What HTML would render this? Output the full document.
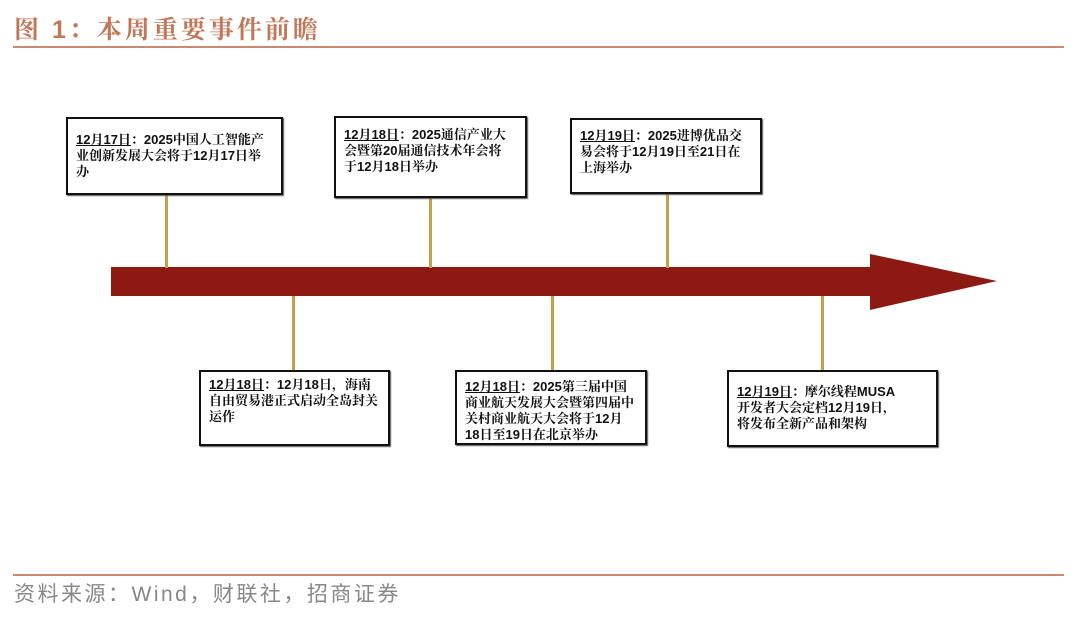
<!DOCTYPE html>
<html><head><meta charset="utf-8"><style>
body{margin:0;width:1080px;height:618px;background:#fff;position:relative;overflow:hidden;font-family:"Liberation Sans","Noto Sans CJK SC",sans-serif}
.t{position:absolute;left:14px;top:10px;font-size:25px;color:#c0775a;letter-spacing:3px;font-family:"Liberation Sans","Noto Serif CJK SC",serif;font-weight:bold;white-space:nowrap}
.hl{position:absolute;left:13px;width:1051px;height:2px;background:#c98a70}
.box{position:absolute;border:2.5px solid #111;box-sizing:border-box;padding:7px 8px;font-size:13px;line-height:16px;color:#111;box-shadow:1px 1px 1px #555;white-space:nowrap;font-weight:bold;font-family:"Liberation Sans","Noto Serif CJK SC",serif}
.box u{font-weight:bold}
.v{position:absolute;width:3px;background:#c4a04c}
.src{position:absolute;left:14px;top:578px;font-size:21px;color:#888;letter-spacing:2.5px;white-space:nowrap}
</style></head><body>
<div class="t">图 1：本周重要事件前瞻</div>
<div class="hl" style="top:46px"></div>
<svg style="position:absolute;left:0;top:0" width="1080" height="618"><polygon points="111,267 870,267 870,254 997,281 870,310 870,296 111,296" fill="#8c1a12"/></svg>
<div class="v" style="left:165px;top:194px;height:74px"></div>
<div class="v" style="left:429px;top:197px;height:71px"></div>
<div class="v" style="left:666px;top:194px;height:74px"></div>
<div class="v" style="left:292px;top:296px;height:75px"></div>
<div class="v" style="left:551px;top:296px;height:75px"></div>
<div class="v" style="left:821px;top:296px;height:75px"></div>
<div class="box" style="left:66px;top:117px;width:217px;height:78px;padding-top:13px"><u>12月17日</u>：2025中国人工智能产<br>业创新发展大会将于12月17日举<br>办</div>
<div class="box" style="left:334px;top:116px;width:193px;height:82px;padding-top:9px"><u>12月18日</u>：2025通信产业大<br>会暨第20届通信技术年会将<br>于12月18日举办</div>
<div class="box" style="left:570px;top:118px;width:192px;height:76px;padding-top:8px"><u>12月19日</u>：2025进博优品交<br>易会将于12月19日至21日在<br>上海举办</div>
<div class="box" style="left:199px;top:370px;width:191px;height:76px;padding-top:5px"><u>12月18日</u>：12月18日，海南<br>自由贸易港正式启动全岛封关<br>运作</div>
<div class="box" style="left:455px;top:370px;width:192px;height:75px;padding-top:7px"><u>12月18日</u>：2025第三届中国<br>商业航天发展大会暨第四届中<br>关村商业航天大会将于12月<br>18日至19日在北京举办</div>
<div class="box" style="left:727px;top:370px;width:211px;height:77px;padding-top:12px"><u>12月19日</u>：摩尔线程MUSA<br>开发者大会定档12月19日，<br>将发布全新产品和架构</div>
<div class="hl" style="top:574px"></div>
<div class="src">资料来源：Wind，财联社，招商证券</div>
</body></html>
